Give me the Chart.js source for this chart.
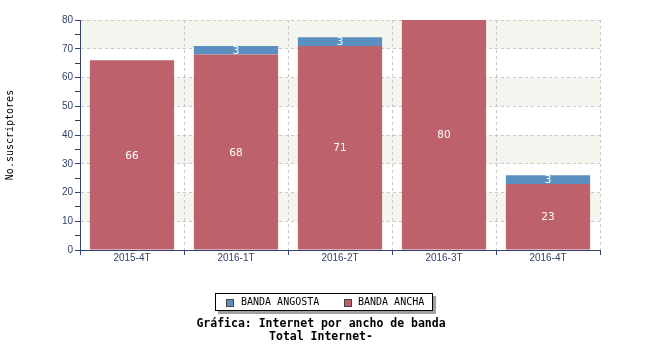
<!DOCTYPE html>
<html>
<head>
<meta charset="utf-8">
<script src="https://cdn.jsdelivr.net/npm/chart.js@4"></script>
<style>
  html, body { margin: 0; padding: 0; background: #fff; }
  #wrap { position: relative; width: 650px; height: 350px; }
  #legend {
    position: absolute; left: 215px; top: 293px; width: 218px; height: 18px;
    border: 1px solid #000; background: #fff; box-shadow: 3px 3px 0 #a0a0a0;
    font-family: "DejaVu Sans Mono", monospace; font-size: 10px; color: #000;
    box-sizing: border-box;
  }
  #legend .sw { position: absolute; top: 5px; width: 8px; height: 8px; border: 1px solid #444; box-sizing: border-box; }
  #legend .tx { position: absolute; top: 2px; line-height: 12px; white-space: nowrap; }
  #title {
    position: absolute; left: -4px; width: 650px; top: 317px; text-align: center;
    font-family: "DejaVu Sans Mono", monospace; font-weight: bold; font-size: 11.5px; line-height: 13px; color: #000;
  }
</style>
</head>
<body>
<div id="wrap">
  <canvas id="c" width="650" height="350"></canvas>
  <div id="legend">
    <span class="sw" id="sw1" style="left:10px"></span><span class="tx" id="lg1" style="left:25px"></span>
    <span class="sw" id="sw2" style="left:128px"></span><span class="tx" id="lg2" style="left:142px"></span>
  </div>
  <div id="title"></div>
</div>
<script>
const categories = ["2015-4T", "2016-1T", "2016-2T", "2016-3T", "2016-4T"];
const bandaAncha = [66, 68, 71, 80, 23];
const bandaAngosta = [0, 3, 3, 0, 3];
const seriesNames = ["BANDA ANGOSTA", "BANDA ANCHA"];
const yTicks = [0, 10, 20, 30, 40, 50, 60, 70, 80];
const shadedBands = [[10, 20], [30, 40], [50, 60], [70, 80]];
const titleLines = ["Gráfica: Internet por ancho de banda", "Total Internet-"];
const yAxisTitle = "No.suscriptores";

const RED = "#bd626c";
const BLUE = "#5b8fc0";
const NAVY = "#35416f";

document.getElementById("lg1").textContent = seriesNames[0];
document.getElementById("lg2").textContent = seriesNames[1];
document.getElementById("sw1").style.background = BLUE;
document.getElementById("sw2").style.background = RED;
document.getElementById("title").innerHTML = titleLines.map(t => t.replace(/&/g,"&amp;").replace(/</g,"&lt;")).join("<br>");

const bandPlugin = {
  id: "bands",
  beforeDraw(chart) {
    const { ctx, chartArea: a, scales: { y } } = chart;
    ctx.save();
    ctx.fillStyle = "#fff";
    ctx.fillRect(0, 0, chart.width, chart.height);
    ctx.fillStyle = "#f5f5f0";
    shadedBands.forEach(([lo, hi]) => {
      const y1 = y.getPixelForValue(hi), y2 = y.getPixelForValue(lo);
      ctx.fillRect(a.left, y1, a.right - a.left, y2 - y1);
    });
    ctx.restore();
  }
};

const labelPlugin = {
  id: "vals",
  afterDatasetsDraw(chart) {
    const ctx = chart.ctx;
    ctx.save();
    ctx.fillStyle = "#fff";
    ctx.font = '10.5px "DejaVu Sans", sans-serif';
    ctx.textAlign = "center";
    ctx.textBaseline = "middle";
    chart.data.datasets.forEach((ds, i) => {
      const meta = chart.getDatasetMeta(i);
      meta.data.forEach((el, j) => {
        const v = ds.data[j];
        if (!v) return;
        const cy = (el.y + el.base) / 2;
        ctx.fillText(String(v), el.x, cy + 1);
      });
    });
    ctx.restore();
  }
};

new Chart(document.getElementById("c"), {
  type: "bar",
  data: {
    labels: categories,
    datasets: [
      { label: seriesNames[1], data: bandaAncha, backgroundColor: RED, borderWidth: 0 },
      { label: seriesNames[0], data: bandaAngosta, backgroundColor: BLUE, borderWidth: 0 }
    ]
  },
  options: {
    responsive: false,
    animation: false,
    events: [],
    layout: { padding: { left: 0, top: 20, right: 50, bottom: 0 } },
    plugins: { legend: { display: false }, tooltip: { enabled: false }, title: { display: false } },
    datasets: { bar: { categoryPercentage: 1, barPercentage: 0.81 } },
    scales: {
      x: {
        stacked: true,
        afterFit: s => { s.height = 100; },
        grid: {
          offset: true,
          color: "#c8c8c8",
          tickColor: NAVY,
          tickLength: 5,
          tickBorderDash: [],
          drawTicks: true,
          lineWidth: 1
        },
        border: { display: true, color: NAVY, width: 1, dash: [3, 3] },
        ticks: { color: NAVY, font: { family: '"Liberation Sans", sans-serif', size: 10 }, padding: -3 }
      },
      y: {
        stacked: true,
        min: 0, max: 80,
        afterFit: s => { s.width = 80; },
        afterBuildTicks: s => {
          const t = [];
          for (let v = 0; v <= 80; v += 5) t.push({ value: v });
          s.ticks = t;
        },
        grid: {
          color: c => (c.tick && c.tick.value % 10 === 0 && c.tick.value !== 0) ? "#c8c8c8" : "rgba(0,0,0,0)",
          tickColor: NAVY,
          tickLength: 5,
          tickBorderDash: [],
          lineWidth: 1
        },
        border: { display: true, color: NAVY, width: 1, dash: [3, 3] },
        ticks: {
          color: NAVY,
          font: { family: '"Liberation Sans", sans-serif', size: 10 },
          padding: 2,
          autoSkip: false,
          callback: v => (yTicks.includes(v) ? String(v) : "")
        },
        title: {
          display: true,
          text: yAxisTitle,
          color: "#000",
          font: { family: '"DejaVu Sans Mono", monospace', size: 10 },
          padding: { top: 4, bottom: 0 }
        }
      }
    }
  },
  plugins: [bandPlugin, labelPlugin]
});
</script>
</body>
</html>
